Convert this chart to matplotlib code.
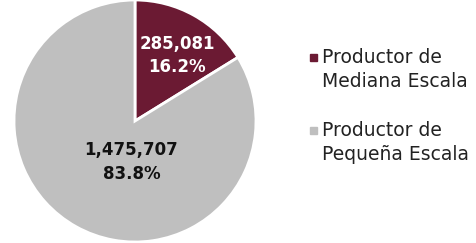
import matplotlib.pyplot as plt
from matplotlib.patches import Rectangle

categories = ["Productor de\nMediana Escala", "Productor de\nPequeña Escala"]
values = [285081, 1475707]
colors = ["#6B1A33", "#BFBFBF"]
label_colors = ["white", "#111111"]

W, H = 476, 243
fig = plt.figure(figsize=(W / 100, H / 100), dpi=100)

# pie axes: centre ~ (135, 120) px, radius ~121 px
r_px = 121
cx, cy = 135, 121
ax = fig.add_axes([(cx - r_px) / W, (H - cy - r_px) / H, 2 * r_px / W, 2 * r_px / H])
wedges, _ = ax.pie(
    values,
    colors=colors,
    startangle=90,
    counterclock=False,
    radius=1,
    wedgeprops=dict(edgecolor="white", linewidth=2),
)
ax.set_xlim(-1, 1)
ax.set_ylim(-1, 1)
ax.set_aspect("equal")

total = sum(values)
label_pos = [(0.35, 0.54), (-0.03, -0.34)]
for v, (x, y), c in zip(values, label_pos, label_colors):
    ax.text(x, y, f"{v:,}\n{v / total * 100:.1f}%", ha="center", va="center",
            color=c, fontsize=12, fontweight="bold", linespacing=1.4)

# legend drawn by hand so the marker sits on the first line
entry_y = [57, 130]
for name, c, y in zip(categories, colors, entry_y):
    fig.patches.append(Rectangle(((310) / W, (H - y - 3.5) / H), 7 / W, 7 / H,
                                 transform=fig.transFigure, color=c, figure=fig))
    fig.text(322 / W, (H - y + 9) / H, name, ha="left", va="top",
             fontsize=13.5, color="#222222", linespacing=1.35)

fig.savefig("out.png", dpi=100)
